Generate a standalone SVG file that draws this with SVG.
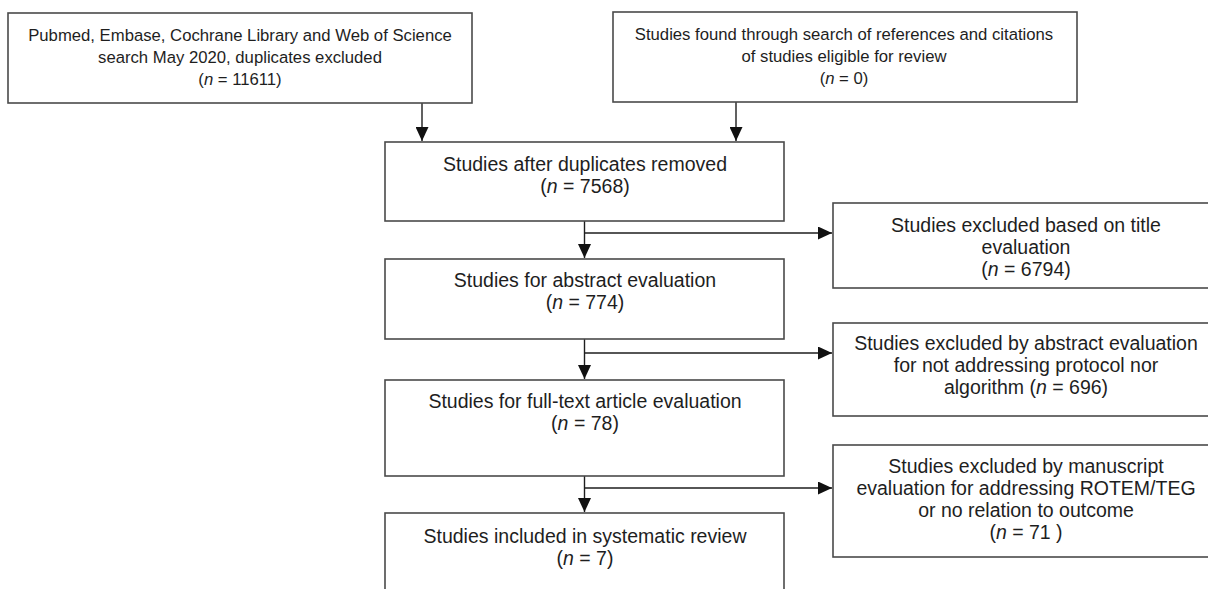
<svg xmlns="http://www.w3.org/2000/svg" width="1208" height="589" viewBox="0 0 1208 589">
<style>
.box{fill:#fff;stroke:#4a4a4a;stroke-width:1.6}
.t{font-family:"Liberation Sans",Arial,sans-serif;font-size:19.5px;fill:#1e1e1e;text-anchor:middle}
.s{font-size:16.7px}
.i{font-style:italic}
.c{fill:none;stroke:#1e1e1e;stroke-width:1.4}
</style>
<defs>
<marker id="ah" markerUnits="userSpaceOnUse" markerWidth="14" markerHeight="13" refX="14" refY="6.5" orient="auto">
<path d="M0,0 L14,6.5 L0,13 z" fill="#111"/>
</marker>
</defs>
<rect width="1208" height="589" fill="#fff"/>
<g id="connectors">
<line class="c" x1="422" y1="103" x2="422" y2="141" marker-end="url(#ah)"/>
<line class="c" x1="736" y1="102" x2="736" y2="141" marker-end="url(#ah)"/>
<line class="c" x1="584.5" y1="221" x2="584.5" y2="258" marker-end="url(#ah)"/>
<line class="c" x1="584.5" y1="233" x2="832" y2="233" marker-end="url(#ah)"/>
<line class="c" x1="584.5" y1="339" x2="584.5" y2="379" marker-end="url(#ah)"/>
<line class="c" x1="584.5" y1="353" x2="832" y2="353" marker-end="url(#ah)"/>
<line class="c" x1="584.5" y1="476" x2="584.5" y2="512" marker-end="url(#ah)"/>
<line class="c" x1="584.5" y1="488" x2="832" y2="488" marker-end="url(#ah)"/>
</g>
<g id="n1">
<rect class="box" x="8" y="13" width="464" height="90"/>
<text class="t s" x="240" y="41">Pubmed, Embase, Cochrane Library and Web of Science</text>
<text class="t s" x="240" y="63">search May 2020, duplicates excluded</text>
<text class="t s" x="240" y="85">(<tspan class="i">n</tspan> = 11611)</text>
</g>
<g id="n2">
<rect class="box" x="613" y="12" width="464" height="90"/>
<text class="t s" x="844" y="40">Studies found through search of references and citations</text>
<text class="t s" x="844" y="62">of studies eligible for review</text>
<text class="t s" x="844" y="84">(<tspan class="i">n</tspan> = 0)</text>
</g>
<g id="n3">
<rect class="box" x="385" y="142" width="399" height="79"/>
<text class="t" x="585" y="171">Studies after duplicates removed</text>
<text class="t" x="585" y="193">(<tspan class="i">n</tspan> = 7568)</text>
</g>
<g id="n4">
<rect class="box" x="385" y="259" width="399" height="80"/>
<text class="t" x="585" y="287">Studies for abstract evaluation</text>
<text class="t" x="585" y="309">(<tspan class="i">n</tspan> = 774)</text>
</g>
<g id="n5">
<rect class="box" x="833" y="203" width="386" height="85"/>
<text class="t" x="1026" y="232">Studies excluded based on title</text>
<text class="t" x="1026" y="254">evaluation</text>
<text class="t" x="1026" y="276">(<tspan class="i">n</tspan> = 6794)</text>
</g>
<g id="n6">
<rect class="box" x="833" y="323" width="386" height="93"/>
<text class="t" x="1026" y="350">Studies excluded by abstract evaluation</text>
<text class="t" x="1026" y="372">for not addressing protocol nor</text>
<text class="t" x="1026" y="394">algorithm (<tspan class="i">n</tspan> = 696)</text>
</g>
<g id="n7">
<rect class="box" x="385" y="380" width="399" height="96"/>
<text class="t" x="585" y="408">Studies for full-text article evaluation</text>
<text class="t" x="585" y="430">(<tspan class="i">n</tspan> = 78)</text>
</g>
<g id="n8">
<rect class="box" x="385" y="513" width="399" height="90"/>
<text class="t" x="585" y="543">Studies included in systematic review</text>
<text class="t" x="585" y="565">(<tspan class="i">n</tspan> = 7)</text>
</g>
<g id="n9">
<rect class="box" x="833" y="445" width="386" height="112"/>
<text class="t" x="1026" y="473">Studies excluded by manuscript</text>
<text class="t" x="1026" y="495">evaluation for addressing ROTEM/TEG</text>
<text class="t" x="1026" y="517">or no relation to outcome</text>
<text class="t" x="1026" y="539">(<tspan class="i">n</tspan> = 71 )</text>
</g>
</svg>
